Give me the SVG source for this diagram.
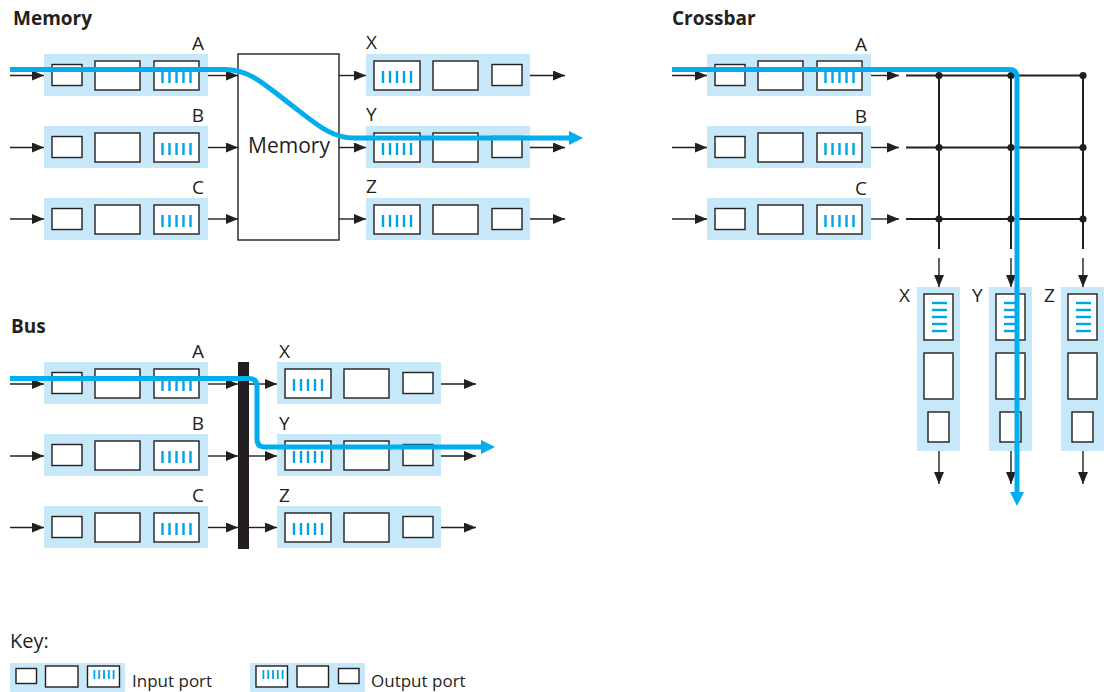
<svg xmlns="http://www.w3.org/2000/svg" xmlns:xlink="http://www.w3.org/1999/xlink" width="1104" height="692" viewBox="0 0 1104 692">
<style>
text{font-family:"Open Sans","Liberation Sans",sans-serif;fill:#231f20}
.title{font-size:19px;font-weight:bold}
.lbl{font-size:19px}
.key{font-size:17px}
.bg{fill:#c7e8f8}
.box{fill:#fff;stroke:#231f20;stroke-width:1.4}
.st{fill:#00a3e4}
.arr{stroke:#231f20;stroke-width:1.4;fill:none;marker-end:url(#ah)}
.grid{stroke:#231f20;stroke-width:2;fill:none}
.flow{stroke:#00aeef;stroke-width:5;fill:none;marker-end:url(#bh)}
</style>
<defs>
<marker id="ah" markerUnits="userSpaceOnUse" viewBox="0 0 12 10" markerWidth="12" markerHeight="10" refX="12" refY="5" orient="auto"><path d="M0,0 L12,5 L0,10 z" fill="#231f20"/></marker>
<marker id="bh" markerUnits="userSpaceOnUse" viewBox="0 0 14 14" markerWidth="14" markerHeight="14" refX="2" refY="7" orient="auto"><path d="M0,0 L14,7 L0,14 z" fill="#00aeef"/></marker>
<g id="inport">
<rect class="bg" x="0" y="0" width="164" height="42"/>
<rect class="box" x="8" y="10.5" width="30" height="21"/>
<rect class="box" x="51" y="7" width="45" height="29"/>
<rect class="box" x="110" y="7" width="45" height="29"/>
<rect class="st" x="117.3" y="17" width="2.4" height="12"/><rect class="st" x="124.3" y="17" width="2.4" height="12"/><rect class="st" x="131.3" y="17" width="2.4" height="12"/><rect class="st" x="138.3" y="17" width="2.4" height="12"/><rect class="st" x="145.3" y="17" width="2.4" height="12"/>
</g>
<g id="outport">
<rect class="bg" x="0" y="0" width="164" height="42"/>
<rect class="box" x="8" y="7" width="46" height="29"/>
<rect class="st" x="15.8" y="17" width="2.4" height="12"/><rect class="st" x="22.8" y="17" width="2.4" height="12"/><rect class="st" x="29.8" y="17" width="2.4" height="12"/><rect class="st" x="36.8" y="17" width="2.4" height="12"/><rect class="st" x="43.8" y="17" width="2.4" height="12"/>
<rect class="box" x="67" y="7" width="45" height="29"/>
<rect class="box" x="126" y="10.5" width="30" height="21"/>
</g>
<g id="vport">
<rect class="bg" x="0" y="0" width="43" height="164"/>
<rect class="box" x="7" y="7" width="29" height="46"/>
<rect class="st" x="15" y="14.8" width="15" height="2.4"/><rect class="st" x="15" y="21.8" width="15" height="2.4"/><rect class="st" x="15" y="28.8" width="15" height="2.4"/><rect class="st" x="15" y="35.8" width="15" height="2.4"/><rect class="st" x="15" y="42.8" width="15" height="2.4"/>
<rect class="box" x="7" y="66" width="29" height="46"/>
<rect class="box" x="11" y="125" width="21" height="30"/>
</g>
</defs>

<!-- Titles -->
<text class="title" x="13" y="25">Memory</text>
<text class="title" x="672" y="25">Crossbar</text>
<text class="title" x="11" y="333">Bus</text>

<!-- Memory section -->
<g id="mem-in-A"><use xlink:href="#inport" x="44" y="54"/><text class="lbl" x="204" y="50" text-anchor="end">A</text></g>
<g id="mem-in-B"><use xlink:href="#inport" x="44" y="126"/><text class="lbl" x="204" y="122" text-anchor="end">B</text></g>
<g id="mem-in-C"><use xlink:href="#inport" x="44" y="198"/><text class="lbl" x="204" y="194" text-anchor="end">C</text></g>
<g id="memory"><rect x="238" y="54" width="101" height="186" fill="#fff" stroke="#231f20" stroke-width="1.4"/><text x="289" y="153" font-size="21" text-anchor="middle">Memory</text></g>
<g id="mem-out-X"><use xlink:href="#outport" x="366" y="54"/><text class="lbl" x="366" y="49">X</text></g>
<g id="mem-out-Y"><use xlink:href="#outport" x="366" y="126"/><text class="lbl" x="366" y="121">Y</text></g>
<g id="mem-out-Z"><use xlink:href="#outport" x="366" y="198"/><text class="lbl" x="366" y="193">Z</text></g>

<!-- Crossbar section -->
<g id="xb-in-A"><use xlink:href="#inport" x="707" y="54"/><text class="lbl" x="867" y="51" text-anchor="end">A</text></g>
<g id="xb-in-B"><use xlink:href="#inport" x="707" y="126"/><text class="lbl" x="867" y="123" text-anchor="end">B</text></g>
<g id="xb-in-C"><use xlink:href="#inport" x="707" y="198"/><text class="lbl" x="867" y="195" text-anchor="end">C</text></g>
<g id="xb-out-X"><use xlink:href="#vport" x="917" y="287"/><text class="lbl" x="899" y="302">X</text></g>
<g id="xb-out-Y"><use xlink:href="#vport" x="989" y="287"/><text class="lbl" x="972" y="302">Y</text></g>
<g id="xb-out-Z"><use xlink:href="#vport" x="1061" y="287"/><text class="lbl" x="1044" y="302">Z</text></g>
<g id="crossbar-grid">
<path class="grid" d="M906,75.5 H1083 M906,147.5 H1083 M906,219 H1083 M939,75.5 V249 M1011,75.5 V249 M1083,75.5 V249"/>
<g fill="#231f20">
<circle cx="939" cy="75.5" r="3.6"/><circle cx="1011" cy="75.5" r="3.6"/><circle cx="1083" cy="75.5" r="3.6"/>
<circle cx="939" cy="147.5" r="3.6"/><circle cx="1011" cy="147.5" r="3.6"/><circle cx="1083" cy="147.5" r="3.6"/>
<circle cx="939" cy="219" r="3.6"/><circle cx="1011" cy="219" r="3.6"/><circle cx="1083" cy="219" r="3.6"/>
</g>
</g>

<!-- Bus section -->
<g id="bus-in-A"><use xlink:href="#inport" x="44" y="362"/><text class="lbl" x="204" y="358" text-anchor="end">A</text></g>
<g id="bus-in-B"><use xlink:href="#inport" x="44" y="434"/><text class="lbl" x="204" y="430" text-anchor="end">B</text></g>
<g id="bus-in-C"><use xlink:href="#inport" x="44" y="506"/><text class="lbl" x="204" y="502" text-anchor="end">C</text></g>
<g id="bus"><rect x="238" y="362" width="11" height="187" fill="#231f20"/></g>
<g id="bus-out-X"><use xlink:href="#outport" x="277" y="362"/><text class="lbl" x="279" y="358">X</text></g>
<g id="bus-out-Y"><use xlink:href="#outport" x="277" y="434"/><text class="lbl" x="279" y="430">Y</text></g>
<g id="bus-out-Z"><use xlink:href="#outport" x="277" y="506"/><text class="lbl" x="279" y="502">Z</text></g>

<!-- Connectors -->
<g id="connectors">
<path class="arr" d="M10,75.5 H44"/><path class="arr" d="M10,147.5 H44"/><path class="arr" d="M10,219 H44"/>
<path class="arr" d="M208,75.5 H238"/><path class="arr" d="M208,147.5 H238"/><path class="arr" d="M208,219 H238"/>
<path class="arr" d="M339,75.5 H366"/><path class="arr" d="M339,147.5 H366"/><path class="arr" d="M339,219 H366"/>
<path class="arr" d="M530,75.5 H565"/><path class="arr" d="M530,147.5 H565"/><path class="arr" d="M530,219 H565"/>

<path class="arr" d="M672,75.5 H707"/><path class="arr" d="M672,147.5 H707"/><path class="arr" d="M672,219 H707"/>
<path class="arr" d="M871,75.5 H899"/><path class="arr" d="M871,147.5 H899"/><path class="arr" d="M871,219 H899"/>
<path class="arr" d="M939,258 V287"/><path class="arr" d="M1011,258 V287"/><path class="arr" d="M1083,258 V287"/>
<path class="arr" d="M939,451 V484"/><path class="arr" d="M1011,451 V484"/><path class="arr" d="M1083,451 V484"/>

<path class="arr" d="M10,384 H44"/><path class="arr" d="M10,456 H44"/><path class="arr" d="M10,527.5 H44"/>
<path class="arr" d="M208,384 H238"/><path class="arr" d="M208,456 H238"/><path class="arr" d="M208,527.5 H238"/>
<path class="arr" d="M249,384 H277"/><path class="arr" d="M249,456 H277"/><path class="arr" d="M249,527.5 H277"/>
<path class="arr" d="M441,384 H476"/><path class="arr" d="M441,456 H476"/><path class="arr" d="M441,527.5 H476"/>

<path class="flow" d="M10,69.5 H225 C250,69.5 265,85 290,104 C315,123 330,138 355,138 H571"/>
<path class="flow" d="M672,69.5 H1009 Q1017,69.5 1017,77.5 V494"/>
<path class="flow" d="M10,378.5 H249 Q257,378.5 257,386.5 V439 Q257,447 265,447 H483"/>
</g>

<!-- Key -->
<g id="key">
<text x="10" y="648" font-size="20">Key:</text>
<g id="key-input">
<rect class="bg" x="10" y="663" width="115" height="29"/>
<rect class="box" x="16" y="668.5" width="20.5" height="15"/>
<rect class="box" x="45.5" y="666" width="32.5" height="21"/>
<rect class="box" x="87.5" y="666" width="32" height="21"/>
<rect class="st" x="93.5" y="670" width="1.8" height="9"/><rect class="st" x="98.3" y="670" width="1.8" height="9"/><rect class="st" x="103.1" y="670" width="1.8" height="9"/><rect class="st" x="107.9" y="670" width="1.8" height="9"/><rect class="st" x="112.7" y="670" width="1.8" height="9"/>
<text class="key" x="132" y="687">Input port</text>
</g>
<g id="key-output">
<rect class="bg" x="250" y="663" width="115" height="29"/>
<rect class="box" x="256" y="666" width="31.5" height="21"/>
<rect class="st" x="262.5" y="670" width="1.8" height="9"/><rect class="st" x="267.3" y="670" width="1.8" height="9"/><rect class="st" x="272.1" y="670" width="1.8" height="9"/><rect class="st" x="276.9" y="670" width="1.8" height="9"/><rect class="st" x="281.7" y="670" width="1.8" height="9"/>
<rect class="box" x="297" y="666" width="31.5" height="21"/>
<rect class="box" x="338.5" y="668.5" width="20.5" height="15"/>
<text class="key" x="371" y="687">Output port</text>
</g>
</g>
</svg>
